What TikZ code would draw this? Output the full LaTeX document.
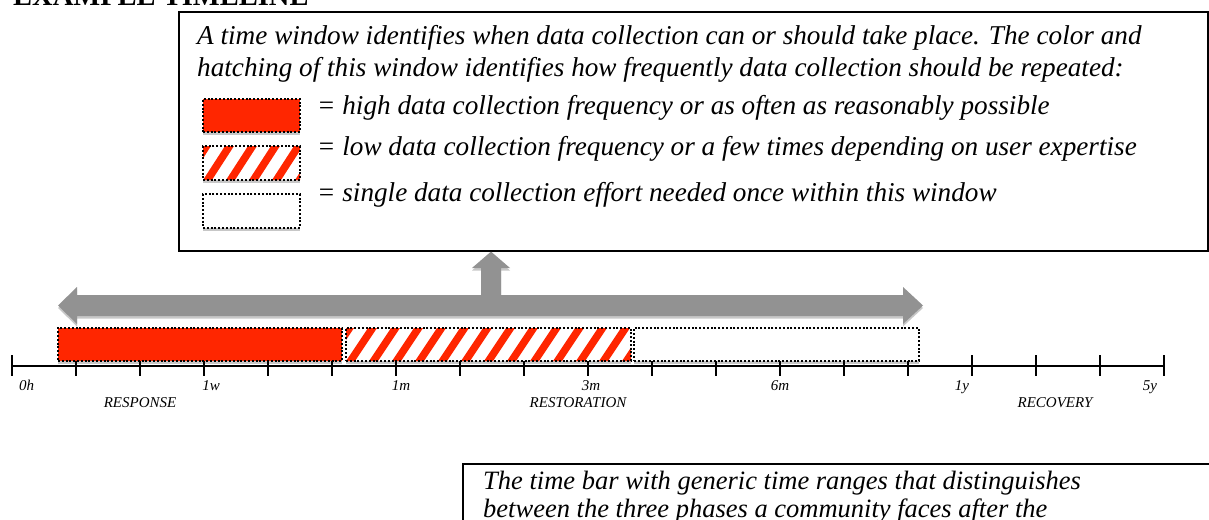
\documentclass[tikz,border=0pt]{standalone}
\usepackage{fontspec}
\setmainfont{Liberation Serif}
\usetikzlibrary{calc,shadows}
\definecolor{redc}{RGB}{255,38,0}
\definecolor{arrowgray}{RGB}{146,146,146}
\begin{document}
\begin{tikzpicture}[x=1pt,y=-1pt,
  desc/.style={anchor=base west, inner sep=0pt, font=\fontsize{27.2}{32}\selectfont\itshape},
  small/.style={anchor=base, inner sep=0pt, font=\fontsize{15}{18}\selectfont\itshape},
  framebox/.style={draw=black, line width=1.6pt, anchor=north west, inner sep=0pt},
  softshadow/.style={drop shadow={shadow xshift=0pt, shadow yshift=-2.5pt, opacity=0.22, fill=black}},
  bar/.style={draw=black, line width=2pt, dash pattern=on 2pt off 1.8pt, anchor=north west, inner sep=0pt, softshadow},
  hatched/.style={fill=white, path picture={
      \path (path picture bounding box.south west) coordinate (hsw)
            (path picture bounding box.north east) coordinate (hne);
      \foreach \k in {-2,...,15}{
        \fill[redc] ($(hsw)+(\k*23,0)$) -- ++(9,0) -- ($(hsw|-hne)+(\k*23+31,0)$) -- ++(-9,0) -- cycle;
      }}},
  tickline/.style={line width=2pt, black},
]
\useasboundingbox (0,0) rectangle (1209,519);
\fill[white] (0,0) rectangle (1209,519);

% title (cut at top)
\node[anchor=base west, inner sep=0pt, font=\fontsize{28.5}{32}\selectfont\bfseries] (title) at (13,6) {EXAMPLE TIMELINE};

% top explanation box
\node[framebox, minimum width=1029pt, minimum height=239pt] (topbox) at (178,11) {};
\node[desc] (d1) at (197,45) {A time window identifies when data collection can or should take place. The color and};
\node[desc] (d2) at (197,76) {hatching of this window identifies how frequently data collection should be repeated:};

\node[bar, fill=redc, minimum width=97pt, minimum height=33pt] (sw1) at (202,98) {};
\node[bar, hatched, minimum width=97pt, minimum height=34pt] (sw2) at (202,145) {};
\node[bar, fill=white, minimum width=97pt, minimum height=34pt] (sw3) at (202,193) {};
\node[desc] (l1) at (317,114) {= high data collection frequency or as often as reasonably possible};
\node[desc] (l2) at (317,155) {= low data collection frequency or a few times depending on user expertise};
\node[desc] (l3) at (317,201) {= single data collection effort needed once within this window};

% gray double arrow with upward branch
\coordinate (uptip) at (topbox.south -| 491,0);
\fill[arrowgray, softshadow] (58,305.5) -- (77,287) -- (77,295) -- (481,295) -- (481,268) -- (472,268)
  -- (uptip) -- (510,268) -- (501,268) -- (501,295) -- (903,295) -- (903,287) -- (923,305.5)
  -- (903,324) -- (903,316) -- (77,316) -- (77,324) -- cycle;

% axis and ticks
\draw[tickline] (12,366) -- (1164,366);
\foreach \x in {12,76,140,204,268,332,396,460,524,588,652,716,780,844,908,972,1036,1100,1164}{
  \draw[tickline] (\x,355) -- (\x,376);
}

% time windows
\node[bar, fill=redc, minimum width=284pt, minimum height=33pt] (high) at (57,327) {};
\node[bar, hatched, minimum width=285pt, minimum height=33pt] (low) at (345,327) {};
\node[bar, fill=white, minimum width=285pt, minimum height=33pt] (single) at (633,327) {};

% tick labels
\node[small, anchor=base west] (t0) at (19,390) {0h};
\node[small] (t1) at (211,390) {1w};
\node[small] (t2) at (401,390) {1m};
\node[small] (t3) at (591,390) {3m};
\node[small] (t4) at (780,390) {6m};
\node[small] (t5) at (962,390) {1y};
\node[small] (t6) at (1150,390) {5y};
\node[small] (p1) at (140,407) {RESPONSE};
\node[small] (p2) at (578,407) {RESTORATION};
\node[small] (p3) at (1055,407) {RECOVERY};

% bottom explanation box
\node[framebox, line width=2pt, minimum width=800pt, minimum height=120pt] (botbox) at (462,463) {};
\node[desc, font=\fontsize{26.5}{31}\selectfont\itshape] (b1) at (483,489) {The time bar with generic time ranges that distinguishes};
\node[desc, font=\fontsize{26.5}{31}\selectfont\itshape] (b2) at (483,517) {between the three phases a community faces after the};
\end{tikzpicture}
\end{document}
